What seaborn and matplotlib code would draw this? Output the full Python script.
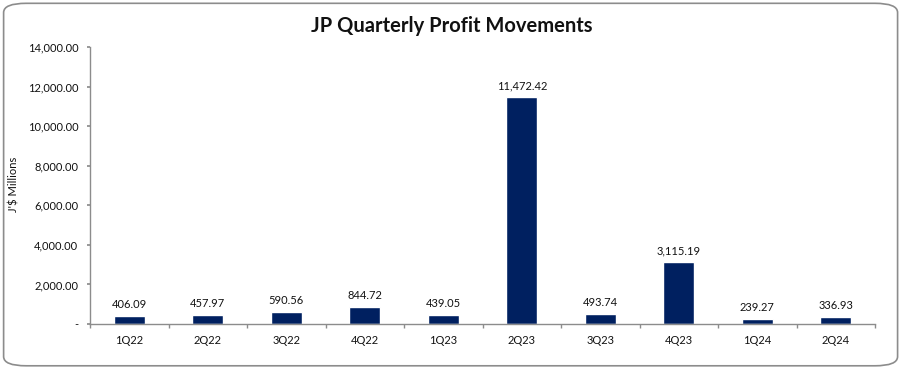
import numpy as np
import pandas as pd
import matplotlib
matplotlib.use("Agg")
import matplotlib.pyplot as plt
import seaborn as sns
from matplotlib.patches import FancyBboxPatch

quarters = ["1Q22", "2Q22", "3Q22", "4Q22", "1Q23", "2Q23", "3Q23", "4Q23", "1Q24", "2Q24"]
profits = [406.09, 457.97, 590.56, 844.72, 439.05, 11472.42, 493.74, 3115.19, 239.27, 336.93]
y_ticks = [0, 2000, 4000, 6000, 8000, 10000, 12000, 14000]

df = pd.DataFrame({"quarter": quarters, "profit": profits})

sns.set_theme(style="white")
plt.rcParams["font.family"] = ["Lato", "DejaVu Sans"]

fig = plt.figure(figsize=(9.03, 3.68), dpi=100)
ax = fig.add_axes([0.0997, 0.1196, 0.8693, 0.7524])

# rounded frame round the whole chart
frame = FancyBboxPatch((0.004, 0.006), 0.99, 0.985, boxstyle="round,pad=0,rounding_size=0.025",
                       transform=fig.transFigure, fill=False, edgecolor="#8c8c8c", linewidth=1.2)
fig.patches.append(frame)

sns.barplot(data=df, x="quarter", y="profit", color="#002060", width=0.4,
            saturation=1, ax=ax)

for i, v in enumerate(profits):
    ax.text(i, v + 300, f"{v:,.2f}", ha="center", va="bottom", fontsize=8, color="#111111")

ax.set_ylim(0, 14000)
ax.set_xlim(-0.5, len(quarters) - 0.5)
ax.set_yticks(y_ticks)
ax.set_yticklabels(["-"] + [f"{t:,.2f}" for t in y_ticks[1:]], fontsize=8, color="#111111")
ax.set_xticks(range(len(quarters)))
ax.set_xticklabels(quarters, fontsize=8, color="#111111")
ax.tick_params(axis="x", length=0, pad=8)
ax.tick_params(axis="y", length=2.5, color="#8c8c8c", direction="out", left=True, pad=6)
# small tick marks between categories on the x axis
ax.set_xticks(np.arange(-0.5, len(quarters)), minor=True)
ax.tick_params(axis="x", which="minor", length=3, color="#8c8c8c", direction="out", bottom=True)

ax.set_xlabel("")
ax.set_ylabel("")
sns.despine(ax=ax)
for s in ["left", "bottom"]:
    ax.spines[s].set_color("#8c8c8c")
    ax.spines[s].set_linewidth(1)

fig.text(0.5, 0.93, "JP Quarterly Profit Movements", ha="center", va="center",
         fontsize=14.5, fontweight="bold", color="#111111")
fig.text(14 / 903, 0.5, "J'$ Millions", rotation=90, ha="center", va="center",
         fontsize=8, color="#111111")

fig.savefig("out.png", dpi=100)
